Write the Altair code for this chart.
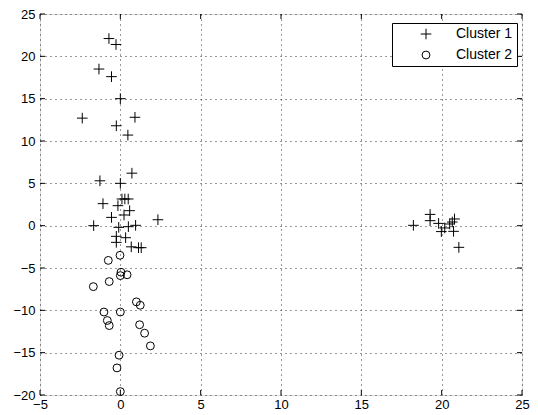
import altair as alt
import pandas as pd

# Cluster 1 (plus markers)
c1_x = [-0.71, -0.27, -1.33, -0.55, 0.0, -2.37, 0.91, -0.25, 0.47,
        0.72, -1.27, 0.0, 0.1, 0.28, 0.49, -1.08, -0.15, 0.58, 0.23, -0.55,
        2.34, -1.66, -0.1, 0.5, 0.95, -0.25, 0.33, -0.25, 0.68, 1.13, 1.3,
        18.24, 19.28, 19.28, 19.81, 20.5, 20.8, 20.66, 20.19, 19.98, 20.74, 21.07]
c1_y = [22.1, 21.4, 18.5, 17.6, 15.0, 12.7, 12.8, 11.8, 10.7,
        6.2, 5.3, 5.0, 3.15, 3.15, 3.15, 2.6, 2.36, 1.77, 1.26, 0.98,
        0.7, 0.0, -0.2, -0.12, 0.04, -1.26, -1.42, -1.97, -2.5, -2.6, -2.6,
        0.04, 1.33, 0.59, 0.27, 0.2, 0.79, 0.43, -0.27, -0.7, -0.67, -2.56]

# Cluster 2 (circle markers)
c2_x = [-0.02, -0.75, 0.04, 0.0, 0.42, -0.69, -1.68, 1.0, 1.24, 0.0,
        -1.02, -0.81, -0.69, 1.2, 1.51, 1.87, -0.08, -0.21, 0.0]
c2_y = [-3.5, -4.1, -5.5, -5.9, -5.8, -6.6, -7.2, -9.0, -9.4, -10.2,
        -10.2, -11.2, -11.8, -11.7, -12.7, -14.2, -15.3, -16.8, -19.6]

series = ["Cluster 1", "Cluster 2"]
x_ticks = [-5, 0, 5, 10, 15, 20, 25]
y_ticks = [-20, -15, -10, -5, 0, 5, 10, 15, 20, 25]

W, H = 482, 381
FONT = "Liberation Sans"

df = pd.DataFrame({
    "x": c1_x + c2_x,
    "y": c1_y + c2_y,
    "cluster": [series[0]] * len(c1_x) + [series[1]] * len(c2_x),
})

plus_path = "M-1.35,0H1.35M0,-1.35V1.35"

xs = alt.Scale(domain=[-5, 25], nice=False, zero=False)
ys = alt.Scale(domain=[-20, 25], nice=False, zero=False)

xaxis = alt.Axis(values=x_ticks, title=None, grid=True, gridDash=[1, 4],
                 gridColor="black", gridOpacity=0.8, tickSize=0, domain=False,
                 labelFont=FONT, labelFontSize=13, labelColor="black",
                 labelPadding=3, labelFlush=False)
yaxis = alt.Axis(values=y_ticks, title=None, grid=True, gridDash=[1, 4],
                 gridColor="black", gridOpacity=0.8, tickSize=0, domain=False,
                 labelFont=FONT, labelFontSize=13, labelColor="black",
                 labelPadding=5, labelFlush=False)

points = alt.Chart(df).mark_point(filled=False, color="black", strokeWidth=1,
                                  opacity=1, size=62).encode(
    x=alt.X("x:Q", scale=xs, axis=xaxis),
    y=alt.Y("y:Q", scale=ys, axis=yaxis),
    shape=alt.Shape("cluster:N", scale=alt.Scale(domain=series, range=[plus_path, "circle"]),
                    legend=alt.Legend(title=None, orient="none", legendX=352, legendY=9,
                                      strokeColor="black", fillColor="white",
                                      padding=4, labelFont=FONT, labelFontSize=14,
                                      labelColor="black", labelOffset=23,
                                      symbolOffset=23, rowPadding=6,
                                      symbolStrokeColor="black", symbolStrokeWidth=1,
                                      symbolSize=62)),
)

xt = pd.DataFrame({"x": x_ticks})
yt = pd.DataFrame({"y": y_ticks})

tick_bottom = alt.Chart(xt).mark_rule(color="black", strokeWidth=1).encode(
    x=alt.X("x:Q", scale=xs), y=alt.value(H), y2=alt.value(H - 5))
tick_top = alt.Chart(xt).mark_rule(color="black", strokeWidth=1).encode(
    x=alt.X("x:Q", scale=xs), y=alt.value(0), y2=alt.value(5))
tick_left = alt.Chart(yt).mark_rule(color="black", strokeWidth=1).encode(
    y=alt.Y("y:Q", scale=ys), x=alt.value(0), x2=alt.value(5))
tick_right = alt.Chart(yt).mark_rule(color="black", strokeWidth=1).encode(
    y=alt.Y("y:Q", scale=ys), x=alt.value(W), x2=alt.value(W - 5))

chart = alt.layer(tick_bottom, tick_top, tick_left, tick_right, points).properties(
    width=W, height=H,
    autosize=alt.AutoSizeParams(type="none"),
    padding={"left": 32, "top": 6, "right": 8, "bottom": 18},
).configure_view(stroke="black", strokeWidth=1).configure(background="white")

chart.save("out.html", embed_options={"renderer": "svg", "actions": False})
